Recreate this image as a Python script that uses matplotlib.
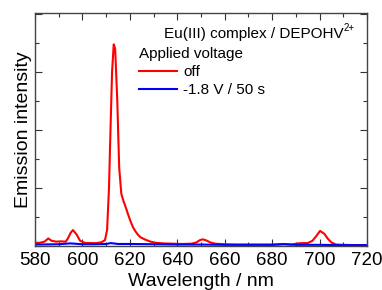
import matplotlib
matplotlib.use("Agg")
import matplotlib.pyplot as plt
from matplotlib.ticker import MultipleLocator

plt.rcParams["font.family"] = ["Liberation Sans", "DejaVu Sans"]

# emission spectrum, voltage off (arbitrary units)
wl_off = [580, 582, 584, 585.6, 587, 589, 591, 593, 594, 595, 596, 597.5, 599,
          601, 604, 606, 608, 609.5, 610.4, 611.2, 611.8, 612.5, 613.2, 613.8,
          614.7, 615.5, 616.4, 617.3, 618.2, 619.2, 620.3, 621.3, 622.4, 623.5,
          624.5, 626.5, 628.7, 631, 634, 638, 642, 646, 648, 649.5, 650.7, 652,
          654, 656, 660, 665, 670, 675, 680, 685, 688, 691, 693, 695, 697, 698.5,
          700.2, 702, 703.5, 705, 707, 710, 715, 720]
int_off = [0.11, 0.11, 0.15, 0.26, 0.18, 0.15, 0.16, 0.15, 0.28, 0.45, 0.55, 0.40, 0.18,
           0.11, 0.10, 0.10, 0.13, 0.20, 0.55, 2.0, 3.9, 6.0, 6.95, 6.8,
           5.0, 2.7, 1.8, 1.55, 1.35, 1.1, 0.85, 0.65, 0.5, 0.38,
           0.30, 0.22, 0.15, 0.11, 0.09, 0.08, 0.07, 0.08, 0.12, 0.20, 0.23, 0.20,
           0.12, 0.08, 0.06, 0.05, 0.05, 0.05, 0.05, 0.07, 0.05, 0.09, 0.10, 0.10, 0.18, 0.33,
           0.52, 0.42, 0.25, 0.12, 0.05, 0.04, 0.03, 0.03]

# emission spectrum after -1.8 V / 50 s
wl_on = [580, 590, 595, 600, 605, 610, 612, 615, 620, 630, 640, 650, 660, 670,
         680, 685, 690, 700, 710, 720]
int_on = [0.05, 0.06, 0.09, 0.06, 0.06, 0.07, 0.10, 0.07, 0.07, 0.06, 0.05, 0.05,
          0.04, 0.04, 0.04, 0.06, 0.04, 0.04, 0.03, 0.03]

fig = plt.figure(figsize=(3.82, 2.90), dpi=100)
ax = fig.add_axes([35 / 382, 44 / 290, 332 / 382, 233 / 290])

ax.plot(wl_off, int_off, color="#ff0000", lw=1.5, label="off")
ax.plot(wl_on, int_on, color="#0000ff", lw=1.5, label="-1.8 V / 50 s")

ax.set_xlim(580, 720)
ax.set_ylim(0, 8.03)
ax.xaxis.set_major_locator(MultipleLocator(20))
ax.xaxis.set_minor_locator(MultipleLocator(10))
ax.yaxis.set_major_locator(MultipleLocator(2))
ax.yaxis.set_minor_locator(MultipleLocator(1))
ax.tick_params(which="both", direction="in", top=True, right=True,
               labelleft=False, labelsize=13.5, color="#333333", pad=4)
ax.tick_params(which="major", length=5, width=0.8)
ax.tick_params(which="minor", length=3, width=0.8)
for sp in ax.spines.values():
    sp.set_color("#444444")
    sp.set_linewidth(1.0)

ax.set_xlabel("Wavelength / nm", fontsize=14, labelpad=3)
ax.set_ylabel("Emission intensity", fontsize=14, labelpad=2)

# sample name, superscript drawn as its own small text
ax.text(0.929, 0.912, "Eu(III) complex / DEPOHV", transform=ax.transAxes,
        ha="right", va="center", fontsize=11)
ax.text(0.930, 0.935, "2+", transform=ax.transAxes,
        ha="left", va="center", fontsize=7)
ax.legend(loc="upper left", bbox_to_anchor=(0.312, 0.853), frameon=False,
          title="Applied voltage", alignment="left", fontsize=11,
          title_fontsize=11, handlelength=2.5, handletextpad=0.4,
          borderaxespad=0, borderpad=0, labelspacing=0.25)

fig.savefig("out.png", dpi=100)
